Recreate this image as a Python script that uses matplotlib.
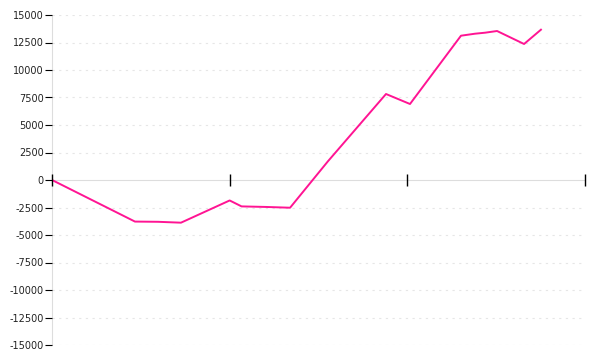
import numpy as np
import matplotlib
matplotlib.use('Agg')
import matplotlib.pyplot as plt

plt.rcParams['font.family'] = 'DejaVu Sans'

# x positions (axis units, ticks at 0..3) and cumulative values
x_vals = [0.0, 0.467, 0.597, 0.726, 1.0, 1.067, 1.205, 1.340, 1.553,
          1.880, 2.015, 2.302, 2.381, 2.437, 2.505, 2.657, 2.752]
y_vals = [0, -3780, -3800, -3880, -1860, -2400, -2450, -2520, 1700,
          7818, 6909, 13118, 13300, 13390, 13545, 12364, 13664]
y_ticks = list(range(-15000, 15001, 2500))
x_ticks = [0, 1, 2, 3]

fig = plt.figure(figsize=(6, 3.6), dpi=100)
ax = fig.add_axes([52 / 600, 15 / 360, 533 / 600, 330 / 360])

for yt in y_ticks:
    if yt != 0:
        ax.axhline(yt, color='#e6e6e6', lw=0.8, ls=(0, (2, 4)), zorder=0)

ax.plot(x_vals, y_vals, color='#ff1493', lw=1.4, zorder=2)

ax.set_xlim(0, 3)
ax.set_ylim(-15000, 15000)
ax.set_yticks(y_ticks)
ax.set_yticklabels([str(v) for v in y_ticks], fontsize=7, color='#222222')
ax.set_xticks(x_ticks)
ax.set_xticklabels([])

for s in ['top', 'right']:
    ax.spines[s].set_visible(False)
ax.spines['left'].set_color('#dddddd')
ax.spines['bottom'].set_position(('data', 0))
ax.spines['bottom'].set_color('#dddddd')
ax.spines['left'].set_zorder(1)
ax.spines['bottom'].set_zorder(1)
ax.set_axisbelow(False)

ax.tick_params(axis='y', direction='out', length=5, width=0.8, color='black', pad=1)
ax.tick_params(axis='x', direction='inout', length=8, width=1, color='black')
for t in ax.xaxis.get_major_ticks():
    t.tick1line.set_clip_on(False)
    t.tick1line.set_zorder(5)

fig.savefig('out.png', dpi=100, facecolor='white')
